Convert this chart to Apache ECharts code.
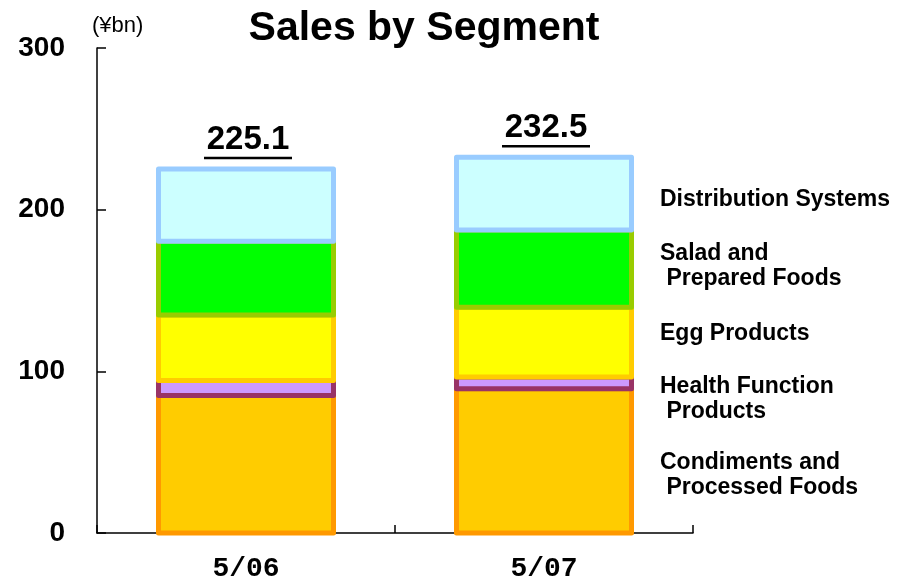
<!DOCTYPE html>
<html>
<head>
<meta charset="utf-8">
<script src="https://cdn.jsdelivr.net/npm/echarts@6/dist/echarts.min.js"></script>
<style>
  html, body { margin: 0; padding: 0; background: #fff; }
  #chart { width: 897px; height: 583px; }
</style>
</head>
<body>
<div id="chart"></div>
<script>
// Fiscal years on the x axis
const years = ['5/06', '5/07'];

// Segment sales (¥bn), bottom of the stack first
const condiments   = [85.0, 89.3];
const healthFunc   = [9.3, 7.2];
const eggProducts  = [40.6, 43.2];
const saladFoods   = [45.6, 47.8];
const distribution = [44.6, 45.0];

// Segment names shown beside the second bar
const segmentNames = [
  'Condiments and\n Processed Foods',
  'Health Function\n Products',
  'Egg Products',
  'Salad and\n Prepared Foods',
  'Distribution Systems'
];

const yTicks = [0, 100, 200, 300];

const FONT = "'Liberation Sans', Arial, sans-serif";
const BAR_W = 175;
const EDGE_W = 5;

const segments = [
  { data: condiments,   fill: '#FFCC00', edge: '#FF9900', dy: 14 },
  { data: healthFunc,   fill: '#CC99FF', edge: '#993366', dy: 16 },
  { data: eggProducts,  fill: '#FFFF00', edge: '#FFCC00', dy: -8 },
  { data: saladFoods,   fill: '#00FF00', edge: '#99CC00', dy: -2 },
  { data: distribution, fill: '#CCFFFF', edge: '#99CCFF', dy: 6 }
];

// Running base of each stack, so every segment knows where it starts
const bases = years.map(() => 0);
const series = segments.map((seg, k) => {
  const rows = seg.data.map((v, i) => {
    const row = [i, bases[i], bases[i] + v, v];
    bases[i] += v;
    return row;
  });
  return {
    name: segmentNames[k],
    type: 'custom',
    silent: true,
    data: rows,
    encode: { x: 0, y: [1, 2] },
    renderItem: (params, api) => {
      const ci = api.value(0);
      const p0 = api.coord([ci, api.value(1)]);
      const p1 = api.coord([ci, api.value(2)]);
      const el = {
        type: 'rect',
        shape: {
          x: p0[0] - BAR_W / 2,
          y: p1[1],
          width: BAR_W,
          height: p0[1] - p1[1]
        },
        style: {
          fill: seg.fill,
          stroke: seg.edge,
          lineWidth: EDGE_W,
          lineJoin: 'round'
        }
      };
      if (params.dataIndex === years.length - 1) {
        el.textContent = {
          style: {
            text: segmentNames[k],
            fontFamily: FONT,
            fontWeight: 'bold',
            fontSize: 23,
            lineHeight: 25,
            fill: '#000'
          }
        };
        el.textConfig = {
          position: 'right',
          distance: 26,
          offset: [0, seg.dy]
        };
      }
      return el;
    }
  };
});

// Stack totals above each bar, underlined
const totals = bases.slice();
series.push({
  name: 'total',
  type: 'custom',
  silent: true,
  data: totals.map((t, i) => [i, t]),
  encode: { x: 0, y: 1 },
  renderItem: (params, api) => {
    const ci = api.value(0);
    const p = api.coord([ci, api.value(1)]);
    const cx = p[0] + 2;
    const uy = p[1] - 11;
    return {
      type: 'group',
      children: [
        {
          type: 'text',
          x: cx,
          y: uy - 1.5,
          style: {
            text: api.value(1).toFixed(1),
            fontFamily: FONT,
            fontWeight: 'bold',
            fontSize: 33,
            fill: '#000',
            align: 'center',
            verticalAlign: 'bottom'
          }
        },
        {
          type: 'line',
          shape: { x1: cx - 44, y1: uy, x2: cx + 44, y2: uy },
          style: { stroke: '#000', lineWidth: 2.5 }
        }
      ]
    };
  }
});

const chart = echarts.init(document.getElementById('chart'), null, { renderer: 'canvas' });

chart.setOption({
  animation: false,
  backgroundColor: '#fff',
  title: {
    text: 'Sales by Segment',
    left: 419,
    top: 3,
    textAlign: 'center',
    textStyle: {
      fontFamily: FONT,
      fontWeight: 'bold',
      fontSize: 41,
      color: '#000'
    }
  },
  grid: { left: 97, right: 204, top: 48, bottom: 48, containLabel: false },
  xAxis: {
    type: 'category',
    data: years,
    axisLine: { lineStyle: { color: '#000', width: 1.5 } },
    axisTick: { show: true, inside: true, length: 8, lineStyle: { color: '#000', width: 1.5 } },
    axisLabel: {
      margin: 22,
      fontFamily: "'Liberation Mono', 'DejaVu Sans Mono', monospace",
      fontWeight: 'bold',
      fontSize: 28,
      color: '#000'
    }
  },
  yAxis: {
    type: 'value',
    min: yTicks[0],
    max: yTicks[yTicks.length - 1],
    interval: yTicks[1] - yTicks[0],
    name: '(¥bn)',
    nameLocation: 'end',
    nameGap: 11,
    nameTextStyle: {
      fontFamily: FONT,
      fontSize: 22,
      color: '#000',
      align: 'left',
      padding: [0, 0, 0, -5]
    },
    splitLine: { show: false },
    axisLine: { show: true, lineStyle: { color: '#000', width: 1.5 } },
    axisTick: { show: true, inside: true, length: 9, lineStyle: { color: '#000', width: 1.5 } },
    axisLabel: {
      margin: 32,
      fontFamily: FONT,
      fontWeight: 'bold',
      fontSize: 28,
      color: '#000'
    }
  },
  series: series
});
</script>
</body>
</html>
